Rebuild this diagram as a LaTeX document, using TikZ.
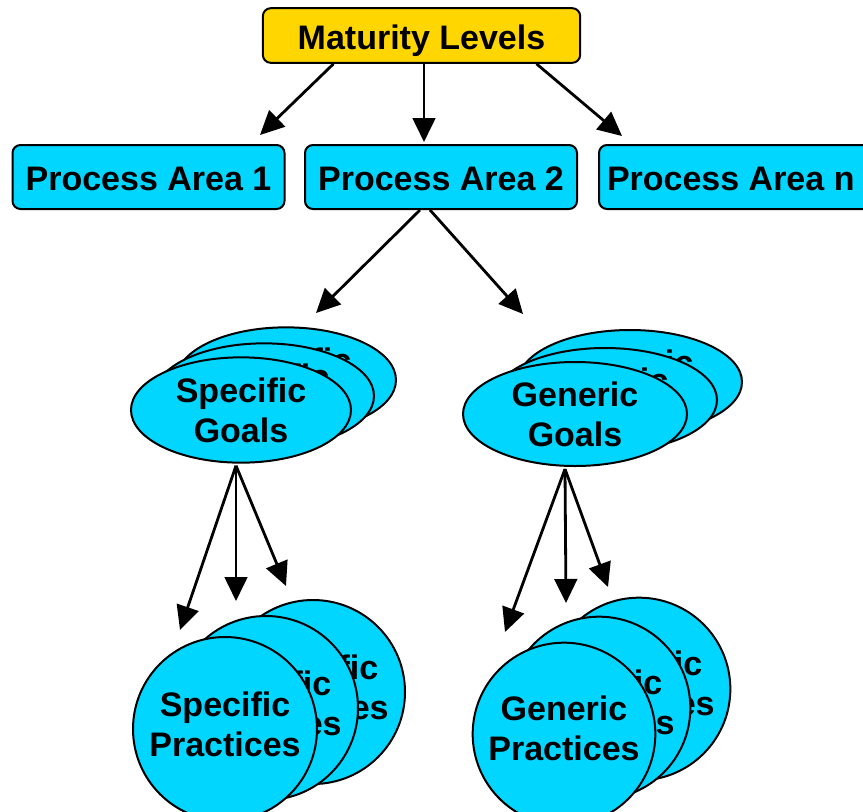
\documentclass[tikz,border=0pt]{standalone}
\usepackage{fontspec}
\setmainfont{Liberation Sans}
\usetikzlibrary{shapes.geometric,arrows.meta,calc}

\definecolor{areacyan}{RGB}{0,214,255}
\definecolor{levelgold}{RGB}{255,214,0}

% lift a label without changing the size of its node
\newcommand{\liftlabel}[2]{\raisebox{#1}[\height][\depth]{\begin{tabular}{@{}c@{}}#2\end{tabular}}}

\tikzset{
  every node/.style={font=\fontsize{25.5}{30}\selectfont\bfseries, align=center},
  areabox/.style={draw, line width=1.5pt, rounded corners=6pt, fill=areacyan,
                  minimum width=204pt, minimum height=48pt, inner sep=0pt},
  goal/.style={draw, line width=1.5pt, ellipse, fill=areacyan, inner sep=0pt,
               minimum width=165pt, minimum height=79pt},
  practice/.style={draw, line width=1.5pt, circle, fill=areacyan, inner sep=0pt,
                   minimum size=138pt},
  arr/.style={line width=2.1pt, -{Triangle[length=18pt,width=17pt]}}
}

\begin{document}
\begin{tikzpicture}[x=0.75pt,y=0.75pt,yscale=-1,xscale=1]
\useasboundingbox (0,0) rectangle (863,811);

%Shape: Rounded Rectangle [top]
\node[areabox, fill=levelgold, minimum width=238pt, minimum height=41pt] (levels) at (421.5,35.5) {\liftlabel{-4.5pt}{Maturity Levels}};

%Shape: Rounded Rectangles [areas]
\node[areabox] (area1) at (148.5,177) {\liftlabel{-3.75pt}{Process Area 1}};
\node[areabox] (area2) at (441,177) {\liftlabel{-3.75pt}{Process Area 2}};
\node[areabox, anchor=west] (arean) at (598,177) {\hspace{6pt}\liftlabel{-3.75pt}{Process Area n}\hspace{20pt}};

%Shape: Ellipses [specific goals, back to front]
\node[goal] (sgoal3) at (286,380) {Specific\\Goals};
\node[goal] (sgoal2) at (264,396) {Specific\\Goals};
\node[goal] (sgoal1) at (241,410) {Specific\\Goals};

%Shape: Ellipses [generic goals, back to front]
\node[goal, minimum width=168pt, minimum height=78pt] (ggoal3) at (630,382) {Generic\\Goals};
\node[goal, minimum width=168pt, minimum height=78pt] (ggoal2) at (605,400) {Generic\\Goals};
\node[goal, minimum width=168pt, minimum height=78pt] (ggoal1) at (575,414) {Generic\\Goals};

%Shape: Circles [specific practices, back to front]
\node[practice] (sprac3) at (313,692) {\liftlabel{0.75pt}{Specific\\Practices}};
\node[practice] (sprac2) at (266,708) {\liftlabel{0.75pt}{Specific\\Practices}};
\node[practice] (sprac1) at (225,729) {\liftlabel{0.75pt}{Specific\\Practices}};

%Shape: Circles [generic practices, back to front]
\node[practice, minimum size=137pt] (gprac3) at (639,689) {\liftlabel{1.25pt}{Generic\\Practices}};
\node[practice, minimum size=137pt] (gprac2) at (599,708) {\liftlabel{1.25pt}{Generic\\Practices}};
\node[practice, minimum size=137pt] (gprac1) at (564,734) {\liftlabel{1.25pt}{Generic\\Practices}};

%Arrow tips, kept clear of the shapes they point at
\coordinate (tip1) at (260,135);
\coordinate (tip2) at (424,142);
\coordinate (tipn) at (622,136);
\coordinate (tipsg) at (316,313);
\coordinate (tipgg) at (523,314);
\coordinate (tipsp1) at (180,630);
\coordinate (tipsp2) at (236,601);
\coordinate (tipsp3) at (286,586);
\coordinate (tipgp1) at (505,632);
\coordinate (tipgp2) at (566,603);
\coordinate (tipgp3) at (608,587);

%Straight Lines
\draw[arr] ($(levels.south)+(-88,0)$) -- (tip1);
\draw[arr] ($(levels.south)+(2.5,0)$) -- (tip2);
\draw[arr] ($(levels.south)+(115,0)$) -- (tipn);
\draw[arr] ($(area2.south)+(-21,0)$) -- (tipsg);
\draw[arr] ($(area2.south)+(-11,0)$) -- (tipgg);
\draw[arr] ($(sgoal1.south)+(-5,2)$) -- (tipsp1);
\draw[arr] ($(sgoal1.south)+(-5,2)$) -- (tipsp2);
\draw[arr] ($(sgoal1.south)+(-5,2)$) -- (tipsp3);
\draw[arr] ($(ggoal1.south)+(-10,2)$) -- (tipgp1);
\draw[arr] ($(ggoal1.south)+(-10,2)$) -- (tipgp2);
\draw[arr] ($(ggoal1.south)+(-10,2)$) -- (tipgp3);

\end{tikzpicture}
\end{document}
